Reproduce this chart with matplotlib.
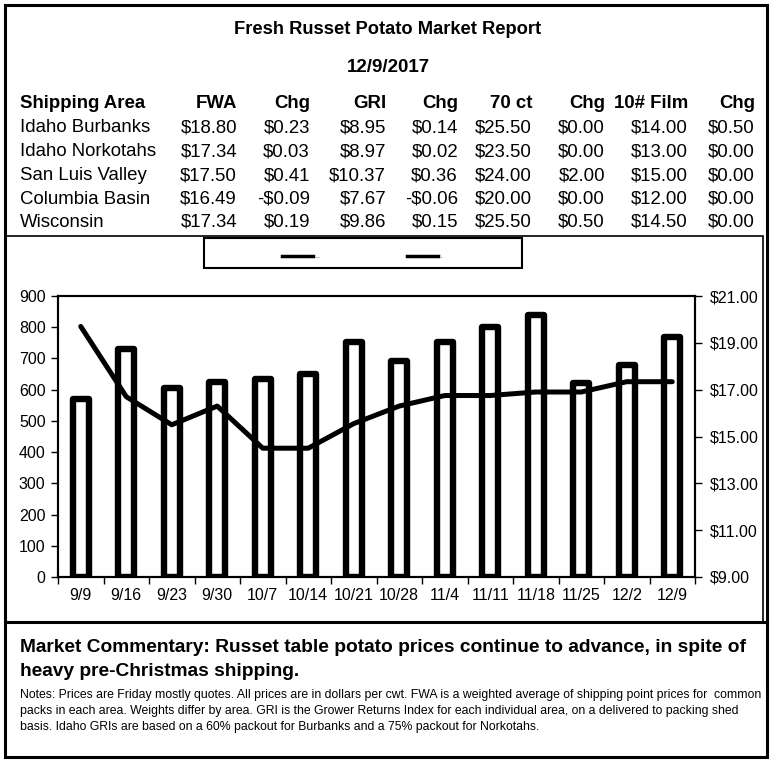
import numpy as np
import matplotlib
matplotlib.use("Agg")
import matplotlib.pyplot as plt
from matplotlib.patches import Rectangle
from matplotlib.lines import Line2D
from matplotlib.ticker import FixedLocator, FormatStrFormatter

plt.rcParams['font.family'] = ['Liberation Sans', 'DejaVu Sans']

# Таблиця цін
header = ["Shipping Area", "FWA", "Chg", "GRI", "Chg", "70 ct", "Chg", "10# Film", "Chg"]
areas = ["Idaho Burbanks", "Idaho Norkotahs", "San Luis Valley", "Columbia Basin", "Wisconsin"]
fwa = ["$18.80", "$17.34", "$17.50", "$16.49", "$17.34"]
fwa_chg = ["$0.23", "$0.03", "$0.41", "-$0.09", "$0.19"]
gri = ["$8.95", "$8.97", "$10.37", "$7.67", "$9.86"]
gri_chg = ["$0.14", "$0.02", "$0.36", "-$0.06", "$0.15"]
ct70 = ["$25.50", "$23.50", "$24.00", "$20.00", "$25.50"]
ct70_chg = ["$0.00", "$0.00", "$2.00", "$0.00", "$0.50"]
film10 = ["$14.00", "$13.00", "$15.00", "$12.00", "$14.50"]
film10_chg = ["$0.50", "$0.00", "$0.00", "$0.00", "$0.00"]

# Дані графіка
weeks = ["9/9", "9/16", "9/23", "9/30", "10/7", "10/14", "10/21", "10/28",
         "11/4", "11/11", "11/18", "11/25", "12/2", "12/9"]
volume = [570, 730, 605, 625, 635, 650, 752, 692, 752, 800, 840, 620, 678, 770]
price = [19.70, 16.70, 15.50, 16.30, 14.50, 14.50, 15.55, 16.30,
         16.75, 16.75, 16.90, 16.90, 17.34, 17.34]

W, H = 777, 761
fig = plt.figure(figsize=(W / 100, H / 100), dpi=100)


def fx(px):
    return px / W


def fy(py):
    return 1 - py / H


def ftext(x, y, s, **kw):
    fig.text(fx(x), fy(y), s, va="center", **kw)


# Рамки
frame = dict(transform=fig.transFigure, fill=False, edgecolor="black")
fig.patches.append(Rectangle((fx(5), fy(757)), fx(767) - fx(5), fy(5) - fy(757), lw=2.2, **frame))
fig.patches.append(Rectangle((fx(5), fy(622)), fx(763) - fx(5), fy(236) - fy(622), lw=1.2, **frame))
fig.lines.append(Line2D([fx(5), fx(767)], [fy(622), fy(622)], transform=fig.transFigure,
                        color="black", lw=2.2))

# Заголовок і таблиця
ftext(388, 30, "Fresh Russet Potato Market Report", ha="center", fontsize=13.2, fontweight="bold")
ftext(388, 67, "12/9/2017", ha="center", fontsize=13.5, fontweight="bold")

col_right = [None, 237, 310, 386, 458, 532, 605, 688, 755]
row_y = [104, 128, 152, 176, 199, 222]
for j, h in enumerate(header):
    if j == 0:
        ftext(20, row_y[0], h, ha="left", fontsize=13.4, fontweight="bold")
    else:
        ftext(col_right[j], row_y[0], h, ha="right", fontsize=13.4, fontweight="bold")

columns = [areas, fwa, fwa_chg, gri, gri_chg, ct70, ct70_chg, film10, film10_chg]
for i in range(len(areas)):
    for j, col in enumerate(columns):
        if j == 0:
            ftext(20, row_y[i + 1], col[i], ha="left", fontsize=13.4)
        else:
            ftext(col_right[j], row_y[i + 1], col[i], ha="right", fontsize=13.4)

# Легенда (порожня, як в оригіналі)
fig.patches.append(Rectangle((fx(204), fy(268)), fx(522) - fx(204), fy(238) - fy(268),
                             lw=1.5, **frame))
fig.lines.append(Line2D([fx(282), fx(313)], [fy(256), fy(256)], transform=fig.transFigure,
                        color="black", lw=2.5))
ftext(316, 257, "----", ha="left", fontsize=3)
fig.lines.append(Line2D([fx(407), fx(438)], [fy(256), fy(256)], transform=fig.transFigure,
                        color="black", lw=2.5))
ftext(441, 257, "--", ha="left", fontsize=3)

# Графік
ax = fig.add_axes([fx(58), fy(577), fx(695) - fx(58), fy(296) - fy(577)])
x = np.arange(len(weeks))
bars = ax.bar(x, volume, width=0.36, facecolor="white", edgecolor="black", linewidth=4.6)
for b in bars:
    b.set_joinstyle("round")
ax.set_xlim(-0.5, len(weeks) - 0.5)
ax.set_ylim(0, 900)
ax.set_yticks(np.arange(0, 901, 100))
ax.set_xticks(x)
ax.set_xticklabels(weeks)
ax.xaxis.set_minor_locator(FixedLocator(np.arange(-0.5, len(weeks), 1)))
ax.tick_params(axis="x", which="major", length=0, pad=8, labelsize=11.5)
ax.tick_params(axis="x", which="minor", length=5, width=1, direction="out")
ax.tick_params(axis="y", length=5, width=1, labelsize=11.5, pad=4)
for sp in ax.spines.values():
    sp.set_linewidth(1.5)

ax2 = ax.twinx()
ax2.plot(x, price, color="black", linewidth=3.6, solid_joinstyle="round", solid_capstyle="round")
ax2.set_ylim(9, 21)
ax2.set_yticks(np.arange(9, 22, 2))
ax2.yaxis.set_major_formatter(FormatStrFormatter("$%.2f"))
ax2.tick_params(axis="y", length=5, width=1, labelsize=11.5, pad=6)
for sp in ax2.spines.values():
    sp.set_linewidth(1.5)

# Коментар
ftext(20, 648, "Market Commentary: Russet table potato prices continue to advance, in spite of",
      ha="left", fontsize=13.75, fontweight="bold")
ftext(20, 672, "heavy pre-Christmas shipping.", ha="left", fontsize=13.75, fontweight="bold")
notes = [
    "Notes: Prices are Friday mostly quotes. All prices are in dollars per cwt. FWA is a weighted average of shipping point prices for  common",
    "packs in each area. Weights differ by area. GRI is the Grower Returns Index for each individual area, on a delivered to packing shed",
    "basis. Idaho GRIs are based on a 60% packout for Burbanks and a 75% packout for Norkotahs.",
]
for k, line in enumerate(notes):
    ftext(20, 695 + 16 * k, line, ha="left", fontsize=8.8)

fig.savefig("out.png", dpi=100)
